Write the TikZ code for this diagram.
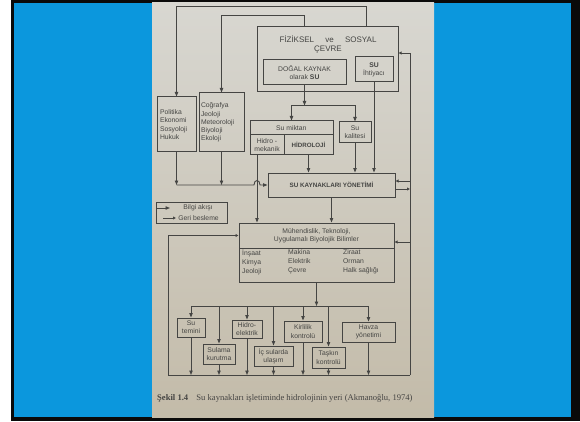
\documentclass[tikz,border=0pt]{standalone}
\usepackage{fontspec}
\setmainfont{Liberation Serif}
\setsansfont{Liberation Sans}
\usepackage{xcolor}
\definecolor{bgBlue}{HTML}{0B97DD}
\definecolor{frameBlack}{HTML}{0A0A0A}
\definecolor{paperTop}{HTML}{D8D7D1}
\definecolor{paperBottom}{HTML}{C3BBA9}
\definecolor{inkGray}{HTML}{454543}
\usetikzlibrary{calc, positioning, arrows.meta, backgrounds}

\tikzset{
  diagBox/.style={draw=inkGray, line width=1pt, inner sep=1pt, align=center,
    text=inkGray, font=\sffamily\fontsize{6.8}{8.2}\selectfont},
  diagText/.style={inner sep=0pt, text=inkGray, align=left,
    font=\sffamily\fontsize{6.8}{9}\selectfont},
  wire/.style={draw=inkGray, line width=0.9pt},
  flowArrow/.style={wire, -{Triangle[length=4.5pt,width=3.4pt]}},
  backArrow/.style={draw=inkGray, line width=0.8pt, -{Triangle[length=3pt,width=2.8pt]}}
}

\begin{document}
\begin{tikzpicture}[x=1pt, y=-1pt]
  \useasboundingbox (0,0) rectangle (580,422);
  \fill[white] (0,0) rectangle (580,422);
  \fill[frameBlack] (11,0) rectangle (580,421);
  \fill[bgBlue] (14,3) rectangle (571,417);
  \shade[top color=paperTop, bottom color=paperBottom] (152,3) rectangle (434,417);

  % environment block
  \node[diagBox, minimum width=141pt, minimum height=65pt] (fizik) at (327.5,59.5) {};
  \node[diagText, align=center, font=\sffamily\fontsize{8}{9.5}\selectfont] (fizikLbl) at (328,44.5)
    {FİZİKSEL\hspace{9pt} ve\hspace{9pt} SOSYAL\\ÇEVRE};
  \node[diagBox, minimum width=83pt, minimum height=25pt] (dogal) at (304.5,72.5)
    {DOĞAL KAYNAK\\olarak \textbf{SU}};
  \node[diagBox, minimum width=38pt, minimum height=25pt] (ihtiyac) at (374,69.5)
    {\textbf{SU}\\İhtiyacı};

  \node[diagBox, align=left, inner xsep=3pt, text width=33pt, minimum height=55pt] (politika) at (176.5,124.5)
    {Politika\\Ekonomi\\Sosyoloji\\Hukuk};
  \node[diagBox, align=left, inner xsep=2pt, text width=41pt, minimum height=59pt] (cografya) at (221.5,122.5)
    {Coğrafya\\Jeoloji\\Meteoroloji\\Biyoloji\\Ekoloji};

  \node[diagBox, minimum width=83pt, minimum height=14pt] (miktarTop) at (291.5,128) {Su miktarı};
  \node[diagBox, minimum width=34pt, minimum height=20pt] (hidromek) at (267,145) {Hidro -\\mekanik};
  \node[diagBox, minimum width=49pt, minimum height=20pt, font=\sffamily\bfseries\fontsize{6.2}{8}\selectfont] (hidroloji) at (308.5,145) {HİDROLOJİ};
  \node[diagBox, minimum width=32pt, minimum height=21pt] (kalite) at (355,132.5) {Su\\kalitesi};

  \node[diagBox, minimum width=127pt, minimum height=24pt, font=\sffamily\bfseries\fontsize{6.3}{8}\selectfont] (sky) at (331.5,185)
    {SU KAYNAKLARI YÖNETİMİ};

  % legend
  \node[diagBox, minimum width=71pt, minimum height=21pt] (legend) at (191.5,212.5) {};
  \node[diagText] (legInfo) at (198,208) {Bilgi akışı};
  \node[diagText] (legBack) at (198.5,218) {Geri besleme};
  \coordinate (legInfoA) at (157,208);
  \coordinate (legInfoB) at (170,208);
  \coordinate (legBackA) at (163,218);
  \coordinate (legBackB) at (176,218);

  \node[diagBox, minimum width=155pt, minimum height=25pt, font=\sffamily\fontsize{6.8}{8.4}\selectfont] (muhTop) at (316.5,235.5)
    {Mühendislik, Teknoloji,\\Uygulamalı Biyolojik Bilimler};
  \node[diagBox, minimum width=155pt, minimum height=34pt] (muhBot) at (316.5,265) {};
  \node[diagText, anchor=north west] (colA) at (242,249.5) {İnşaat\\Kimya\\Jeoloji};
  \node[diagText, anchor=north west] (colB) at (288,249.5) {Makina\\Elektrik\\Çevre};
  \node[diagText, anchor=north west] (colC) at (343,249.5) {Ziraat\\Orman\\Halk sağlığı};

  % fields of use
  \node[diagBox, minimum width=28pt, minimum height=19pt] (temini) at (191,327.5) {Su\\temini};
  \node[diagBox, minimum width=32pt, minimum height=20pt] (sulama) at (219,354) {Sulama\\kurutma};
  \node[diagBox, minimum width=30pt, minimum height=18pt] (hidroel) at (247,329) {Hidro-\\elektrik};
  \node[diagBox, minimum width=39pt, minimum height=20pt] (ulasim) at (273.5,356) {İç sularda\\ulaşım};
  \node[diagBox, minimum width=38pt, minimum height=21pt] (kirlilik) at (303,331.5) {Kirlilik\\kontrolü};
  \node[diagBox, minimum width=33pt, minimum height=21pt] (taskin) at (328.5,357.5) {Taşkın\\kontrolü};
  \node[diagBox, minimum width=53pt, minimum height=20pt] (havza) at (368.5,332) {Havza\\yönetimi};

  \node[anchor=west, inner sep=0pt, text=inkGray, font=\rmfamily\fontsize{8.6}{10}\selectfont] (caption) at (157,398)
    {\textbf{Şekil 1.4}\hspace{6pt} Su kaynakları işletiminde hidrolojinin yeri (Akmanoğlu, 1974)};

  \coordinate (busTop) at (314,306);
  \coordinate (lBot) at (168,375);
  \coordinate (rBot) at (410,375);
  \coordinate (rTop) at (410,53);
  \coordinate (rSkyIn) at (410,181);
  \coordinate (rSkyOut) at (410,189);
  \coordinate (rMuh) at (410,242);
  \coordinate (hmBot) at ([xshift=-10pt]hidromek.south);

  % connectors
  \draw[flowArrow] ([xshift=110pt]fizik.north west) -- ++(0,-20) -| (politika.north);
  \draw[flowArrow] ([xshift=48pt]fizik.north west) -- ++(0,-11) -| (cografya.north);
  \draw[flowArrow] (dogal.south) -- ++(0,20) coordinate (split);
  \draw[flowArrow] (split) -| (miktarTop.north);
  \draw[flowArrow] (split) -| (kalite.north);
  \draw[flowArrow] (hidroloji.south) -- (hidroloji.south |- sky.north);
  \draw[flowArrow] (kalite.south) -- (kalite.south |- sky.north);
  \draw[flowArrow] (ihtiyac.south) -- (ihtiyac.south |- sky.north);
  \draw[flowArrow] (politika.south) -- (politika.south |- sky.west);
  \draw[flowArrow] (cografya.south) -- (cografya.south |- sky.west);
  \draw[flowArrow] (politika.south |- sky.west) -- ($(hmBot |- sky.west)+(-3,0)$)
    .. controls +(0,-6) and +(0,-6) .. ($(hmBot |- sky.west)+(3,0)$) -- (sky.west);
  \draw[flowArrow] (hmBot) -- (hmBot |- muhTop.north);
  \draw[flowArrow] (sky.south) -- (sky.south |- muhTop.north);
  \draw[flowArrow] (muhBot.south) -- (muhBot.south |- busTop);
  \draw[wire] (temini.north |- busTop) -- (havza.north |- busTop);
  \foreach \b in {temini,sulama,hidroel,ulasim,kirlilik,taskin,havza} {
    \draw[flowArrow] (\b.north |- busTop) -- (\b.north);
    \draw[flowArrow] (\b.south) -- (\b.south |- lBot);
  }
  \draw[wire] (lBot) -- (rBot);
  \draw[backArrow] (lBot) |- (muhTop.west);
  \draw[backArrow] (rBot) -- (rTop) -- (rTop -| fizik.east);
  \draw[backArrow] (rSkyIn) -- (rSkyIn -| sky.east);
  \draw[backArrow] (rSkyOut -| sky.east) -- (rSkyOut);
  \draw[backArrow] (rMuh) -- (rMuh -| muhTop.east);
  \draw[flowArrow] (legInfoA) -- (legInfoB);
  \draw[backArrow] (legBackA) -- (legBackB);
\end{tikzpicture}
\end{document}
